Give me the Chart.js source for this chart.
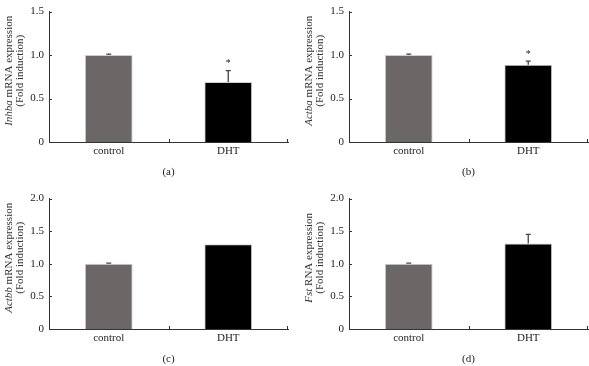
<!DOCTYPE html>
<html>
<head>
<meta charset="utf-8">
<script src="https://cdn.jsdelivr.net/npm/chart.js@4"></script>
<style>
  body { margin: 0; background: #fff; }
  #wrap { position: relative; width: 589px; height: 366px; }
  canvas { position: absolute; }
</style>
</head>
<body>
<div id="wrap">
  <canvas id="chart-a" width="289" height="183" style="left:0;top:0"></canvas>
  <canvas id="chart-b" width="289" height="183" style="left:300px;top:0"></canvas>
  <canvas id="chart-c" width="289" height="183" style="left:0;top:187px"></canvas>
  <canvas id="chart-d" width="289" height="183" style="left:300px;top:187px"></canvas>
</div>
<script>
const categories = [ "control", "DHT" ];

const inhbaValues = [ 1.0, 0.69 ];
const inhbaErrors = [ 0.01, 0.13 ];
const inhbaStars  = [ false, true ];

const actbaValues = [ 1.0, 0.89 ];
const actbaErrors = [ 0.01, 0.04 ];
const actbaStars  = [ false, true ];

const actbbValues = [ 1.0, 1.30 ];
const actbbErrors = [ 0.01, 0 ];
const actbbStars  = [ false, false ];

const fstValues = [ 1.0, 1.31 ];
const fstErrors = [ 0.01, 0.14 ];
const fstStars  = [ false, false ];

const barColors = [ '#6b6766', '#000000' ];

Chart.defaults.font.family = '"Liberation Serif", "Times New Roman", serif';
Chart.defaults.font.size = 11;
Chart.defaults.color = '#222';

// error bars, stars, inward ticks and the two-line y title
const extras = {
    id: 'extras',
    afterDatasetsDraw(chart, args, opts) {
        const ctx = chart.ctx;
        const x = chart.scales.x;
        const y = chart.scales.y;
        const area = chart.chartArea;
        const values = chart.data.datasets[0].data;

        ctx.save();
        ctx.strokeStyle = '#444';
        ctx.lineWidth = 1.3;
        values.forEach((v, i) => {
            const err = opts.errors[i];
            if (!err) return;
            const px = x.getPixelForValue(i);
            const top = y.getPixelForValue(v + err);
            ctx.beginPath();
            ctx.moveTo(px, y.getPixelForValue(v));
            ctx.lineTo(px, top);
            ctx.moveTo(px - 2.5, top);
            ctx.lineTo(px + 2.5, top);
            ctx.stroke();
        });

        ctx.fillStyle = '#222';
        ctx.font = '10px "Liberation Serif"';
        ctx.textAlign = 'center';
        ctx.textBaseline = 'middle';
        values.forEach((v, i) => {
            if (!opts.stars[i]) return;
            const top = y.getPixelForValue(v + (opts.errors[i] || 0));
            ctx.fillText('*', x.getPixelForValue(i), top - 7);
        });

        // ticks on the axes
        ctx.strokeStyle = '#333';
        ctx.lineWidth = 1;
        y.ticks.forEach(t => {
            if (t.value === 0) return;
            const py = Math.round(y.getPixelForValue(t.value)) + 0.5;
            ctx.beginPath();
            ctx.moveTo(area.left, py);
            ctx.lineTo(area.left + 3, py);
            ctx.stroke();
        });
        const mid = Math.round((x.getPixelForValue(0) + x.getPixelForValue(1)) / 2) + 0.5;
        [ mid, area.right - 0.5 ].forEach(px => {
            ctx.beginPath();
            ctx.moveTo(px, area.bottom);
            ctx.lineTo(px, area.bottom - 3);
            ctx.stroke();
        });

        // y title
        const yc = (area.top + area.bottom) / 2 - 6;
        ctx.fillStyle = '#333';
        ctx.textBaseline = 'middle';
        ctx.textAlign = 'left';
        const italicFont = 'italic 11px "Liberation Serif"';
        const plainFont = '11px "Liberation Serif"';
        ctx.font = italicFont;
        const w1 = ctx.measureText(opts.gene).width;
        ctx.font = plainFont;
        const w2 = ctx.measureText(opts.rest).width;
        const w3 = ctx.measureText('(Fold induction)').width;

        ctx.translate(9, yc);
        ctx.rotate(-Math.PI / 2);
        ctx.font = italicFont;
        ctx.fillText(opts.gene, -(w1 + w2) / 2, 0);
        ctx.font = plainFont;
        ctx.fillText(opts.rest, -(w1 + w2) / 2 + w1, 0);
        ctx.fillText('(Fold induction)', -w3 / 2, 11.5);
        ctx.restore();
    }
};

function makeChart(id, values, errors, stars, max, gene, rest, caption) {
    return new Chart(document.getElementById(id).getContext('2d'), {
        type: 'bar',
        data: {
            labels: categories,
            datasets: [{
                data: values,
                backgroundColor: barColors,
                borderColor: '#cfcfcf',
                borderWidth: 1,
                barPercentage: 0.4,
                categoryPercentage: 1.0,
            }]
        },
        options: {
            responsive: false,
            animation: false,
            layout: { padding: { top: 5, right: 1, left: 0, bottom: 0 } },
            plugins: {
                legend: { display: false },
                tooltip: { enabled: false },
                extras: { errors: errors, stars: stars, gene: gene, rest: rest },
            },
            scales: {
                x: {
                    grid: { display: false, drawTicks: false },
                    border: { color: '#333', width: 1 },
                    ticks: { padding: 3, color: '#222' },
                    title: { display: true, text: caption, color: '#222', padding: { top: 0, bottom: 4 } },
                    afterFit: scale => { scale.height = 41; },
                },
                y: {
                    min: 0,
                    max: max,
                    grid: { display: false, drawTicks: false },
                    border: { color: '#333', width: 1 },
                    ticks: {
                        stepSize: 0.5,
                        padding: 5,
                        color: '#222',
                        callback: v => v === 0 ? '0' : v.toFixed(1),
                    },
                    afterFit: scale => { scale.width = 49; },
                }
            }
        },
        plugins: [ extras ],
    });
}

makeChart('chart-a', inhbaValues, inhbaErrors, inhbaStars, 1.5, 'Inhba', ' mRNA expression', '(a)');
makeChart('chart-b', actbaValues, actbaErrors, actbaStars, 1.5, 'Actba', ' mRNA expression', '(b)');
makeChart('chart-c', actbbValues, actbbErrors, actbbStars, 2.0, 'Actbb', ' mRNA expression', '(c)');
makeChart('chart-d', fstValues, fstErrors, fstStars, 2.0, 'Fst', ' RNA expression', '(d)');
</script>
</body>
</html>
